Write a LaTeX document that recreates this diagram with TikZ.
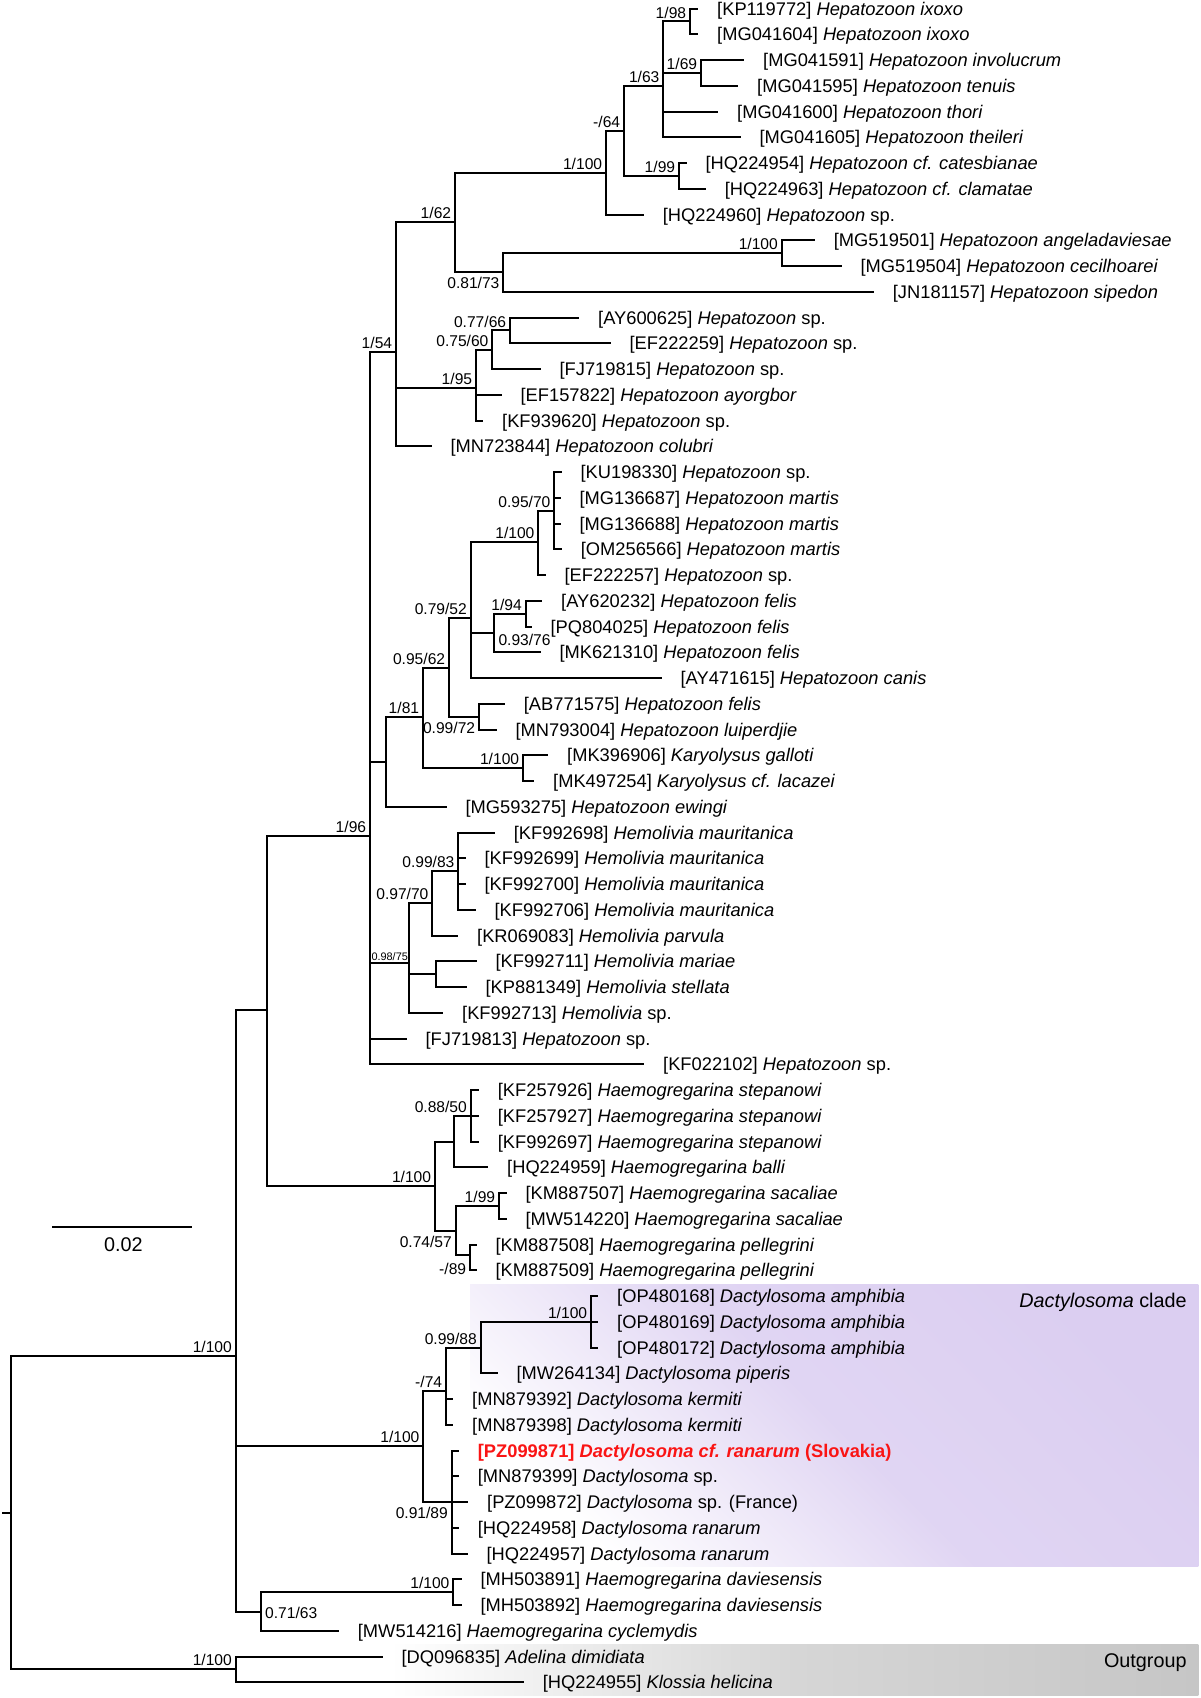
\documentclass[tikz,border=0pt]{standalone}
\usepackage{fontspec}
\setmainfont{Liberation Sans}
\usepackage{tikz}

\definecolor{cladelav}{RGB}{219,206,241}
\definecolor{outgray}{RGB}{198,198,198}
\definecolor{outmid}{RGB}{214,214,214}
\definecolor{hilite}{RGB}{250,20,20}

\tikzset{
  br/.style={line width=1pt},
  leaflab/.style={anchor=base west, inner sep=0pt, xshift=9.25pt, yshift=-3.25pt,
    font=\fontsize{9.15}{10}\selectfont},
  suplab/.style={inner sep=0pt, font=\fontsize{7.8}{9}\selectfont},
  supp/.style={suplab, anchor=base east, xshift=-1.75pt, yshift=1.7pt},
  suppbelow/.style={suplab, anchor=base east, xshift=-1.75pt, yshift=-8.25pt},
  suppright/.style={suplab, anchor=base west, xshift=1.9pt},
  bigtext/.style={inner sep=0pt, font=\fontsize{9.9}{11}\selectfont}
}

\begin{document}
\begin{tikzpicture}[x=0.5pt, y=-0.5pt]
  \useasboundingbox (0,0) rectangle (1200,1698);

  % shaded clade boxes
  \shade[top color=cladelav, bottom color=white, middle color=cladelav!85, shading angle=-45]
    (470,1284.3) rectangle (1198.3,1566);
  \shade[left color=white, right color=outgray, middle color=outmid]
    (390,1644.3) rectangle (1198.3,1695.7);
  \node[bigtext, anchor=base east] (dacl) at (1187,1307.8) {\textit{Dactylosoma} clade};
  \node[bigtext, anchor=base east] (outl) at (1187,1667.8) {Outgroup};

  % internal nodes
  \coordinate (r0) at (2,1512.5);
  \coordinate (r) at (11,1512.5);
  \coordinate (ing) at (235.7,1356);
  \coordinate (out) at (235.7,1669);
  \coordinate (B) at (266.7,1010);
  \coordinate (dac) at (423.3,1446);
  \coordinate (dav) at (261,1611.5);
  \coordinate (C) at (370,836);
  \coordinate (haem) at (435,1186);
  \coordinate (n54) at (396,352.3);
  \coordinate (D) at (386,761.9);
  \coordinate (hem) at (409.3,963.3);
  \coordinate (n62) at (455,222.3);
  \coordinate (n95) at (476,388.3);
  \coordinate (n100a) at (606,172.5);
  \coordinate (n81) at (503.3,272.3);
  \coordinate (n64) at (624,130.7);
  \coordinate (n63) at (663.3,85.7);
  \coordinate (n99a) at (679,175.9);
  \coordinate (n98) at (690,21.4);
  \coordinate (n69) at (701,72.9);
  \coordinate (nang) at (781.7,253.1);
  \coordinate (n60) at (492.3,350);
  \coordinate (n66) at (510,330.4);
  \coordinate (n81b) at (423,717);
  \coordinate (n62b) at (449,667.7);
  \coordinate (nkar) at (523,768.1);
  \coordinate (n52) at (470.7,617.7);
  \coordinate (n72) at (479,716.6);
  \coordinate (nmar) at (538.3,542.3);
  \coordinate (n70) at (554.3,510.6);
  \coordinate (nfel) at (494.3,632.5);
  \coordinate (n94) at (525.7,613.6);
  \coordinate (n70b) at (432.3,903.3);
  \coordinate (n83) at (458.3,871.1);
  \coordinate (nmari) at (436,974.1);
  \coordinate (nh1) at (454,1141.6);
  \coordinate (n50) at (470.7,1115.75);
  \coordinate (n57) at (455.7,1230.5);
  \coordinate (n99b) at (499,1205.9);
  \coordinate (n89) at (470,1255);
  \coordinate (n74) at (446,1390.7);
  \coordinate (n88) at (480.7,1348.3);
  \coordinate (namp) at (591,1321.75);
  \coordinate (n89b) at (451.7,1502);
  \coordinate (ndav) at (453.3,1592.1);

  % leaves
  \path (698.3,8.5) coordinate (t1) node[leaflab] (l1) {[KP119772] \textit{Hepatozoon ixoxo}};
  \path (698.3,34.25) coordinate (t2) node[leaflab] (l2) {[MG041604] \textit{Hepatozoon ixoxo}};
  \path (744.3,60) coordinate (t3) node[leaflab] (l3) {[MG041591] \textit{Hepatozoon involucrum}};
  \path (738.3,85.75) coordinate (t4) node[leaflab] (l4) {[MG041595] \textit{Hepatozoon tenuis}};
  \path (718.3,111.5) coordinate (t5) node[leaflab] (l5) {[MG041600] \textit{Hepatozoon thori}};
  \path (740.7,137.25) coordinate (t6) node[leaflab] (l6) {[MG041605] \textit{Hepatozoon theileri}};
  \path (686.7,163) coordinate (t7) node[leaflab] (l7) {[HQ224954] \textit{Hepatozoon cf. catesbianae}};
  \path (706,188.75) coordinate (t8) node[leaflab] (l8) {[HQ224963] \textit{Hepatozoon cf. clamatae}};
  \path (644,214.5) coordinate (t9) node[leaflab] (l9) {[HQ224960] \textit{Hepatozoon} sp.};
  \path (815,240.25) coordinate (t10) node[leaflab] (l10) {[MG519501] \textit{Hepatozoon angeladaviesae}};
  \path (841.7,266) coordinate (t11) node[leaflab] (l11) {[MG519504] \textit{Hepatozoon cecilhoarei}};
  \path (874,291.75) coordinate (t12) node[leaflab] (l12) {[JN181157] \textit{Hepatozoon sipedon}};
  \path (579.3,317.5) coordinate (t13) node[leaflab] (l13) {[AY600625] \textit{Hepatozoon} sp.};
  \path (610.7,343.25) coordinate (t14) node[leaflab] (l14) {[EF222259] \textit{Hepatozoon} sp.};
  \path (540.7,369) coordinate (t15) node[leaflab] (l15) {[FJ719815] \textit{Hepatozoon} sp.};
  \path (501.7,394.75) coordinate (t16) node[leaflab] (l16) {[EF157822] \textit{Hepatozoon ayorgbor}};
  \path (483.3,420.5) coordinate (t17) node[leaflab] (l17) {[KF939620] \textit{Hepatozoon} sp.};
  \path (431.7,446.25) coordinate (t18) node[leaflab] (l18) {[MN723844] \textit{Hepatozoon colubri}};
  \path (561.7,472) coordinate (t19) node[leaflab] (l19) {[KU198330] \textit{Hepatozoon} sp.};
  \path (560.7,497.75) coordinate (t20) node[leaflab] (l20) {[MG136687] \textit{Hepatozoon martis}};
  \path (560.7,523.5) coordinate (t21) node[leaflab] (l21) {[MG136688] \textit{Hepatozoon martis}};
  \path (562,549.25) coordinate (t22) node[leaflab] (l22) {[OM256566] \textit{Hepatozoon martis}};
  \path (545.7,575) coordinate (t23) node[leaflab] (l23) {[EF222257] \textit{Hepatozoon} sp.};
  \path (542.3,600.75) coordinate (t24) node[leaflab] (l24) {[AY620232] \textit{Hepatozoon felis}};
  \path (531.7,626.5) coordinate (t25) node[leaflab] (l25) {[PQ804025] \textit{Hepatozoon felis}};
  \path (540.7,652.25) coordinate (t26) node[leaflab] (l26) {[MK621310] \textit{Hepatozoon felis}};
  \path (661.7,678) coordinate (t27) node[leaflab] (l27) {[AY471615] \textit{Hepatozoon canis}};
  \path (505,703.75) coordinate (t28) node[leaflab] (l28) {[AB771575] \textit{Hepatozoon felis}};
  \path (496.7,729.5) coordinate (t29) node[leaflab] (l29) {[MN793004] \textit{Hepatozoon luiperdjie}};
  \path (548.3,755.25) coordinate (t30) node[leaflab] (l30) {[MK396906] \textit{Karyolysus galloti}};
  \path (534.3,781) coordinate (t31) node[leaflab] (l31) {[MK497254] \textit{Karyolysus cf. lacazei}};
  \path (446.7,806.75) coordinate (t32) node[leaflab] (l32) {[MG593275] \textit{Hepatozoon ewingi}};
  \path (495,832.5) coordinate (t33) node[leaflab] (l33) {[KF992698] \textit{Hemolivia mauritanica}};
  \path (465.7,858.25) coordinate (t34) node[leaflab] (l34) {[KF992699] \textit{Hemolivia mauritanica}};
  \path (465.7,884) coordinate (t35) node[leaflab] (l35) {[KF992700] \textit{Hemolivia mauritanica}};
  \path (475.7,909.75) coordinate (t36) node[leaflab] (l36) {[KF992706] \textit{Hemolivia mauritanica}};
  \path (458.3,935.5) coordinate (t37) node[leaflab] (l37) {[KR069083] \textit{Hemolivia parvula}};
  \path (476.7,961.25) coordinate (t38) node[leaflab] (l38) {[KF992711] \textit{Hemolivia mariae}};
  \path (466.7,987) coordinate (t39) node[leaflab] (l39) {[KP881349] \textit{Hemolivia stellata}};
  \path (443.3,1012.75) coordinate (t40) node[leaflab] (l40) {[KF992713] \textit{Hemolivia} sp.};
  \path (406.7,1038.5) coordinate (t41) node[leaflab] (l41) {[FJ719813] \textit{Hepatozoon} sp.};
  \path (644.3,1064.25) coordinate (t42) node[leaflab] (l42) {[KF022102] \textit{Hepatozoon} sp.};
  \path (479,1090) coordinate (t43) node[leaflab] (l43) {[KF257926] \textit{Haemogregarina stepanowi}};
  \path (479,1115.75) coordinate (t44) node[leaflab] (l44) {[KF257927] \textit{Haemogregarina stepanowi}};
  \path (479,1141.5) coordinate (t45) node[leaflab] (l45) {[KF992697] \textit{Haemogregarina stepanowi}};
  \path (488.3,1167.25) coordinate (t46) node[leaflab] (l46) {[HQ224959] \textit{Haemogregarina balli}};
  \path (506.7,1193) coordinate (t47) node[leaflab] (l47) {[KM887507] \textit{Haemogregarina sacaliae}};
  \path (506.7,1218.75) coordinate (t48) node[leaflab] (l48) {[MW514220] \textit{Haemogregarina sacaliae}};
  \path (476.7,1244.5) coordinate (t49) node[leaflab] (l49) {[KM887508] \textit{Haemogregarina pellegrini}};
  \path (476.7,1270.25) coordinate (t50) node[leaflab] (l50) {[KM887509] \textit{Haemogregarina pellegrini}};
  \path (598.3,1296) coordinate (t51) node[leaflab] (l51) {[OP480168] \textit{Dactylosoma amphibia}};
  \path (598.3,1321.75) coordinate (t52) node[leaflab] (l52) {[OP480169] \textit{Dactylosoma amphibia}};
  \path (598.3,1347.5) coordinate (t53) node[leaflab] (l53) {[OP480172] \textit{Dactylosoma amphibia}};
  \path (497.7,1373.25) coordinate (t54) node[leaflab] (l54) {[MW264134] \textit{Dactylosoma piperis}};
  \path (453.3,1399) coordinate (t55) node[leaflab] (l55) {[MN879392] \textit{Dactylosoma kermiti}};
  \path (453.3,1424.75) coordinate (t56) node[leaflab] (l56) {[MN879398] \textit{Dactylosoma kermiti}};
  \path (459,1450.5) coordinate (t57) node[leaflab, text=hilite] (l57) {\bfseries [PZ099871] \textit{Dactylosoma cf. ranarum} (Slovakia)};
  \path (459,1476.25) coordinate (t58) node[leaflab] (l58) {[MN879399] \textit{Dactylosoma} sp.};
  \path (468.3,1502) coordinate (t59) node[leaflab] (l59) {[PZ099872] \textit{Dactylosoma} sp. (France)};
  \path (459,1527.75) coordinate (t60) node[leaflab] (l60) {[HQ224958] \textit{Dactylosoma ranarum}};
  \path (467.7,1553.5) coordinate (t61) node[leaflab] (l61) {[HQ224957] \textit{Dactylosoma ranarum}};
  \path (461.7,1579.25) coordinate (t62) node[leaflab] (l62) {[MH503891] \textit{Haemogregarina daviesensis}};
  \path (461.7,1605) coordinate (t63) node[leaflab] (l63) {[MH503892] \textit{Haemogregarina daviesensis}};
  \path (339,1630.75) coordinate (t64) node[leaflab] (l64) {[MW514216] \textit{Haemogregarina cyclemydis}};
  \path (382.7,1656.5) coordinate (t65) node[leaflab] (l65) {[DQ096835] \textit{Adelina dimidiata}};
  \path (524,1682.25) coordinate (t66) node[leaflab] (l66) {[HQ224955] \textit{Klossia helicina}};

  % branches
  \draw[br] (r0) -- (r);
  \draw[br] (r) |- (ing) (r) |- (out);
  \draw[br] (ing) |- (B) (ing) |- (dac) (ing) |- (dav);
  \draw[br] (B) |- (C) (B) |- (haem);
  \draw[br] (C) |- (n54) (C) |- (D) (C) |- (hem) (C) |- (t41) (C) |- (t42);
  \draw[br] (n54) |- (n62) (n54) |- (n95) (n54) |- (t18);
  \draw[br] (n62) |- (n100a) (n62) |- (n81);
  \draw[br] (n100a) |- (n64) (n100a) |- (t9);
  \draw[br] (n64) |- (n63) (n64) |- (n99a);
  \draw[br] (n63) |- (n98) (n63) |- (n69) (n63) |- (t5) (n63) |- (t6);
  \draw[br] (n98) |- (t1) (n98) |- (t2);
  \draw[br] (n69) |- (t3) (n69) |- (t4);
  \draw[br] (n99a) |- (t7) (n99a) |- (t8);
  \draw[br] (n81) |- (nang) (n81) |- (t12);
  \draw[br] (nang) |- (t10) (nang) |- (t11);
  \draw[br] (n95) |- (n60) (n95) |- (t16) (n95) |- (t17);
  \draw[br] (n60) |- (n66) (n60) |- (t15);
  \draw[br] (n66) |- (t13) (n66) |- (t14);
  \draw[br] (D) |- (n81b) (D) |- (t32);
  \draw[br] (n81b) |- (n62b) (n81b) |- (nkar);
  \draw[br] (n62b) |- (n52) (n62b) |- (n72);
  \draw[br] (n52) |- (nmar) (n52) |- (nfel) (n52) |- (t27);
  \draw[br] (nmar) |- (n70) (nmar) |- (t23);
  \draw[br] (n70) |- (t19) (n70) |- (t20) (n70) |- (t21) (n70) |- (t22);
  \draw[br] (nfel) |- (n94) (nfel) |- (t26);
  \draw[br] (n94) |- (t24) (n94) |- (t25);
  \draw[br] (n72) |- (t28) (n72) |- (t29);
  \draw[br] (nkar) |- (t30) (nkar) |- (t31);
  \draw[br] (hem) |- (n70b) (hem) |- (nmari) (hem) |- (t40);
  \draw[br] (n70b) |- (n83) (n70b) |- (t37);
  \draw[br] (n83) |- (t33) (n83) |- (t34) (n83) |- (t35) (n83) |- (t36);
  \draw[br] (nmari) |- (t38) (nmari) |- (t39);
  \draw[br] (haem) |- (nh1) (haem) |- (n57);
  \draw[br] (nh1) |- (n50) (nh1) |- (t46);
  \draw[br] (n50) |- (t43) (n50) |- (t44) (n50) |- (t45);
  \draw[br] (n57) |- (n99b) (n57) |- (n89);
  \draw[br] (n99b) |- (t47) (n99b) |- (t48);
  \draw[br] (n89) |- (t49) (n89) |- (t50);
  \draw[br] (dac) |- (n74) (dac) |- (n89b);
  \draw[br] (n74) |- (n88) (n74) |- (t55) (n74) |- (t56);
  \draw[br] (n88) |- (namp) (n88) |- (t54);
  \draw[br] (namp) |- (t51) (namp) |- (t52) (namp) |- (t53);
  \draw[br] (n89b) |- (t57) (n89b) |- (t58) (n89b) |- (t59) (n89b) |- (t60) (n89b) |- (t61);
  \draw[br] (dav) |- (ndav) (dav) |- (t64);
  \draw[br] (ndav) |- (t62) (ndav) |- (t63);
  \draw[br] (out) |- (t65) (out) |- (t66);

  % support values
  \node[supp] (s98) at (n98) {1/98};
  \node[supp] (s69) at (n69) {1/69};
  \node[supp] (s63) at (n63) {1/63};
  \node[supp] (s99a) at (n99a) {1/99};
  \node[supp] (s64) at (n64) {-/64};
  \node[supp] (s100a) at (n100a) {1/100};
  \node[supp] (s62) at (n62) {1/62};
  \node[suppbelow] (s81) at (n81) {0.81/73};
  \node[supp] (sang) at (nang) {1/100};
  \node[supp] (s54) at (n54) {1/54};
  \node[supp] (s66) at (n66) {0.77/66};
  \node[supp] (s60) at (n60) {0.75/60};
  \node[supp] (s95) at (n95) {1/95};
  \node[supp] (s70) at (n70) {0.95/70};
  \node[supp] (smar) at (nmar) {1/100};
  \node[supp] (s94) at (n94) {1/94};
  \node[suppright, yshift=-6.5pt] (sfel) at (nfel) {0.93/76};
  \node[supp] (s52) at (n52) {0.79/52};
  \node[suppbelow] (s72) at (n72) {0.99/72};
  \node[supp] (s62b) at (n62b) {0.95/62};
  \node[supp] (skar) at (nkar) {1/100};
  \node[supp] (s81b) at (n81b) {1/81};
  \node[supp] (sC) at (C) {1/96};
  \node[supp] (s83) at (n83) {0.99/83};
  \node[supp] (s70b) at (n70b) {0.97/70};
  \node[inner sep=0pt, anchor=base east, xshift=-0.5pt, yshift=1.2pt,
        font=\fontsize{5.45}{6}\selectfont] (shem) at (hem) {0.98/75};
  \node[supp] (shaem) at (haem) {1/100};
  \node[supp] (s50) at (n50) {0.88/50};
  \node[suppbelow] (s57) at (n57) {0.74/57};
  \node[supp] (s99b) at (n99b) {1/99};
  \node[suplab, anchor=base east, xshift=-1.75pt, yshift=-9.75pt] (s89) at (n89) {-/89};
  \node[supp] (sing) at (ing) {1/100};
  \node[supp] (sdac) at (dac) {1/100};
  \node[supp] (s74) at (n74) {-/74};
  \node[supp] (s88) at (n88) {0.99/88};
  \node[supp] (samp) at (namp) {1/100};
  \node[suppbelow] (s89b) at (n89b) {0.91/89};
  \node[suppright, yshift=-3.35pt] (sdav) at (dav) {0.71/63};
  \node[supp] (sndav) at (ndav) {1/100};
  \node[supp] (sout) at (out) {1/100};

  % scale bar
  \coordinate (sb1) at (52.3,1226.7);
  \coordinate (sb2) at (192.3,1226.7);
  \draw[br] (sb1) -- (sb2);
  \node[bigtext] (sbl) at (123.3,1244.3) {0.02};
\end{tikzpicture}
\end{document}
